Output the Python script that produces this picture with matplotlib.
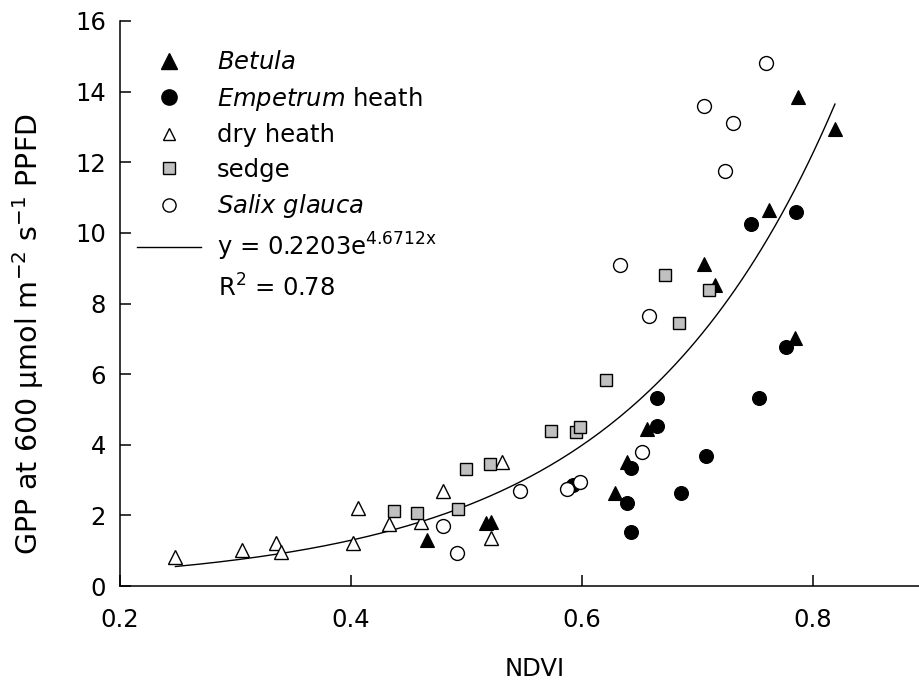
import numpy as np
import matplotlib
matplotlib.use("Agg")
import matplotlib.pyplot as plt
from matplotlib.lines import Line2D

plt.rcParams['font.family'] = ['DejaVu Sans']
plt.rcParams['mathtext.fontset'] = 'dejavusans'

# NDVI / GPP values
betula_x = [0.466, 0.517, 0.521, 0.629, 0.639, 0.656, 0.706, 0.715, 0.762, 0.784, 0.787, 0.819]
betula_y = [1.29, 1.79, 1.80, 2.64, 3.52, 4.46, 9.13, 8.52, 10.64, 7.01, 13.85, 12.95]

empetrum_x = [0.592, 0.639, 0.642, 0.642, 0.665, 0.665, 0.686, 0.707, 0.746, 0.753, 0.777, 0.785]
empetrum_y = [2.86, 2.36, 1.54, 3.35, 4.54, 5.32, 2.64, 3.69, 10.24, 5.31, 6.77, 10.59]

dry_x = [0.248, 0.306, 0.335, 0.339, 0.402, 0.406, 0.433, 0.461, 0.480, 0.521, 0.531]
dry_y = [0.83, 1.02, 1.23, 0.97, 1.23, 2.20, 1.75, 1.80, 2.69, 1.35, 3.50]

sedge_x = [0.437, 0.457, 0.493, 0.500, 0.520, 0.573, 0.595, 0.598, 0.621, 0.672, 0.684, 0.710]
sedge_y = [2.12, 2.06, 2.17, 3.30, 3.45, 4.40, 4.37, 4.49, 5.83, 8.80, 7.46, 8.38]

salix_x = [0.480, 0.492, 0.546, 0.587, 0.598, 0.633, 0.652, 0.658, 0.706, 0.724, 0.731, 0.759]
salix_y = [1.71, 0.94, 2.70, 2.76, 2.95, 9.09, 3.80, 7.65, 13.59, 11.76, 13.10, 14.81]

# exponential trend line as drawn in the figure
fit_a, fit_b = 0.1368, 5.62
fit_xmin, fit_xmax = 0.248, 0.819

fs = 17.5

fig = plt.figure(figsize=(9.2, 6.87), dpi=100)
ax = fig.add_axes([120 / 920, 101 / 687, 808.5 / 920, 565 / 687])

xs = np.linspace(fit_xmin, fit_xmax, 200)
ax.plot(xs, fit_a * np.exp(fit_b * xs), color='black', lw=1.0, zorder=2)

ms = 10
ax.plot(betula_x, betula_y, '^', ms=ms, mfc='black', mec='black', mew=0.8, ls='none', zorder=3)
ax.plot(empetrum_x, empetrum_y, 'o', ms=ms, mfc='black', mec='black', mew=0.8, ls='none', zorder=3)
ax.plot(dry_x, dry_y, '^', ms=ms, mfc='white', mec='black', mew=1.0, ls='none', zorder=3)
ax.plot(sedge_x, sedge_y, 's', ms=8.5, mfc='#c0c0c0', mec='black', mew=1.0, ls='none', zorder=3)
ax.plot(salix_x, salix_y, 'o', ms=ms, mfc='white', mec='black', mew=1.0, ls='none', zorder=3)

ax.set_xlim(0.2, 0.9)
ax.set_ylim(0, 16)
ax.set_xticks([0.2, 0.4, 0.6, 0.8])
ax.set_yticks(np.arange(0, 17, 2))
ax.set_xticklabels(['0.2', '0.4', '0.6', '0.8'])
for s in ['top', 'right']:
    ax.spines[s].set_visible(False)
for s in ['left', 'bottom']:
    ax.spines[s].set_linewidth(1.1)
ax.tick_params(axis='both', direction='in', length=8, width=1.1, labelsize=fs)
ax.tick_params(axis='x', pad=16)
ax.tick_params(axis='y', pad=10)

ax.set_xlabel('NDVI', fontsize=fs)
ax.xaxis.set_label_coords((535 - 120) / 808.5, -0.125)
ax.set_ylabel(r'GPP at 600 μmol m$^{\mathregular{-2}}$ s$^{\mathregular{-1}}$ PPFD', fontsize=20.5)
ax.yaxis.set_label_coords(-0.092, 0.445)

handles = [
    Line2D([], [], marker='^', ls='none', ms=11, mfc='black', mec='black'),
    Line2D([], [], marker='o', ls='none', ms=11, mfc='black', mec='black'),
    Line2D([], [], marker='^', ls='none', ms=8, mfc='white', mec='black'),
    Line2D([], [], marker='s', ls='none', ms=8, mfc='#c0c0c0', mec='black'),
    Line2D([], [], marker='o', ls='none', ms=9.5, mfc='white', mec='black'),
    Line2D([], [], color='black', lw=1.0),
]
labels = [
    r'$\mathit{Betula}$',
    r'$\mathit{Empetrum}$ heath',
    'dry heath',
    'sedge',
    r'$\mathit{Salix\ glauca}$',
    r'y = 0.2203e$^{\mathregular{4.6712x}}$',
]
ax.legend(handles, labels, loc='upper left', bbox_to_anchor=(0.0, 0.978), frameon=False,
          fontsize=fs, markerscale=1.0, handlelength=2.63, handletextpad=0.66,
          labelspacing=0.43, borderaxespad=0.3)
ax.text((218 - 120) / 808.5, (586 - 297) / 565, r'R$^{\mathregular{2}}$ = 0.78',
        transform=ax.transAxes, fontsize=fs, ha='left', va='baseline')

fig.savefig('out.png', dpi=100)
